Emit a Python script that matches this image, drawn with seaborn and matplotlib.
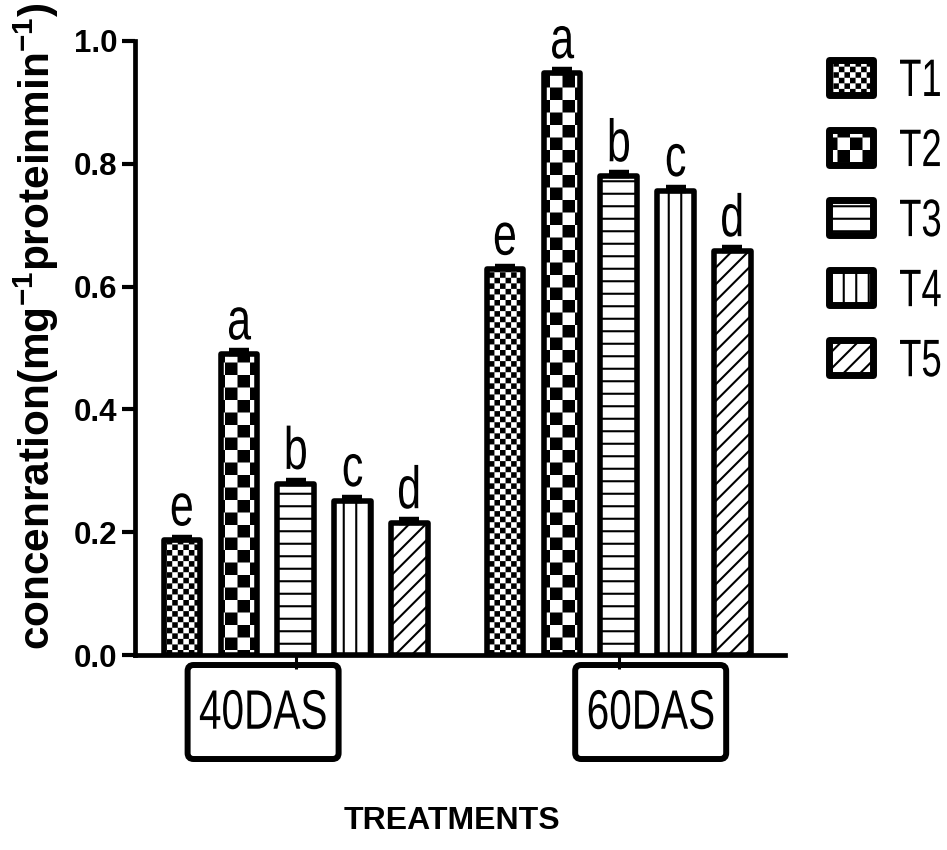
import warnings
import numpy as np
import pandas as pd
import matplotlib
matplotlib.use("Agg")
import matplotlib.pyplot as plt
from matplotlib import hatch as mhatch
from matplotlib.path import Path
from matplotlib.patches import FancyBboxPatch
from matplotlib.patheffects import AbstractPathEffect
from matplotlib.transforms import Affine2D, ScaledTranslation, blended_transform_factory
import seaborn as sns

warnings.filterwarnings("ignore")

# ---- data -------------------------------------------------------------
stages = ["40DAS", "60DAS"]
treatments = ["T1", "T2", "T3", "T4", "T5"]
activity_40das = [0.187, 0.490, 0.279, 0.251, 0.215]
activity_60das = [0.628, 0.948, 0.780, 0.756, 0.658]
sem_40das = [0.006, 0.006, 0.006, 0.006, 0.006]
sem_60das = [0.006, 0.006, 0.006, 0.006, 0.006]
letters_40das = ["e", "a", "b", "c", "d"]
letters_60das = ["e", "a", "b", "c", "d"]
yticks = [0.0, 0.2, 0.4, 0.6, 0.8, 1.0]


# ---- extra hatch fills: checkerboards and evenly spaced rules -----------
class CheckerHatch(mhatch.HatchPatternBase):
    filled = True

    def __init__(self, hatch, density):
        self.cells = 18 if "c" in hatch else (8 if "k" in hatch else 0)
        self.num_vertices = (self.cells * self.cells // 2) * 5

    def set_vertices_and_codes(self, vertices, codes):
        n = self.cells
        s = 1.0 / n
        shrink = plt.rcParams["hatch.linewidth"] / 144.0
        k = 0
        for i in range(n):
            for j in range(n):
                if (i + j) % 2 == 0:
                    x0, x1 = i * s + shrink, (i + 1) * s - shrink
                    y0, y1 = j * s + shrink, (j + 1) * s - shrink
                    vertices[k:k + 5] = [(x0, y0), (x1, y0), (x1, y1), (x0, y1), (x0, y0)]
                    codes[k:k + 5] = [Path.MOVETO, Path.LINETO, Path.LINETO,
                                      Path.LINETO, Path.CLOSEPOLY]
                    k += 5


class RuleHatch(mhatch.HatchPatternBase):
    def __init__(self, hatch, density):
        self.horizontal = "h" in hatch
        self.vertical = "v" in hatch
        self.num_lines = 8 if (self.horizontal or self.vertical) else 0
        self.num_vertices = self.num_lines * 2

    def set_vertices_and_codes(self, vertices, codes):
        steps = (np.arange(self.num_lines) + 0.5) / self.num_lines
        if self.horizontal:
            vertices[0::2, 0] = 0.0
            vertices[0::2, 1] = steps
            vertices[1::2, 0] = 1.0
            vertices[1::2, 1] = steps
        else:
            vertices[0::2, 0] = steps
            vertices[0::2, 1] = 0.0
            vertices[1::2, 0] = steps
            vertices[1::2, 1] = 1.0
        codes[0::2] = Path.MOVETO
        codes[1::2] = Path.LINETO


mhatch._hatch_types.extend([CheckerHatch, RuleHatch])
hatches = ["c", "k", "h", "v", "//"]


class Condensed(AbstractPathEffect):
    """Draw text glyphs squeezed horizontally (a narrow-face look)."""

    def __init__(self, sx=0.72, anchor="center"):
        super().__init__()
        self.sx = sx
        self.anchor = anchor

    def draw_path(self, renderer, gc, tpath, affine, rgbFace=None):
        if self.anchor == "center":
            ext = tpath.get_extents(affine)
            ox = 0.5 * (ext.x0 + ext.x1)
        else:
            ox = affine.get_matrix()[0, 2]
        squeeze = Affine2D().translate(-ox, 0).scale(self.sx, 1).translate(ox, 0)
        renderer.draw_path(gc, tpath, affine + squeeze, rgbFace)


# ---- style ------------------------------------------------------------
sns.set_theme(style="ticks")
plt.rcParams["font.family"] = ["Liberation Sans", "DejaVu Sans"]
plt.rcParams.update({
    "mathtext.fontset": "custom",
    "mathtext.rm": "Liberation Sans",
    "mathtext.bf": "Liberation Sans:bold",
    "mathtext.it": "Liberation Sans:italic",
    "hatch.linewidth": 1.5,
    "hatch.color": "black",
    "text.color": "black",
    "axes.labelcolor": "black",
    "axes.edgecolor": "black",
    "xtick.color": "black",
    "ytick.color": "black",
})

df = pd.DataFrame({
    "stage": np.repeat(stages, len(treatments)),
    "treatment": treatments * len(stages),
    "value": activity_40das + activity_60das,
    "sem": sem_40das + sem_60das,
    "letter": letters_40das + letters_60das,
})

fig = plt.figure(figsize=(9.47, 8.5), dpi=100)
ax = fig.add_axes([0.1426, 0.2294, 0.6864, 0.7224])

sns.barplot(data=df, x="stage", y="value", hue="treatment", order=stages,
            hue_order=treatments, palette=["white"] * len(treatments),
            saturation=1, edgecolor="black", linewidth=4, width=0.88, gap=0.36,
            errorbar=None, legend=False, ax=ax)

for container, hatch, trt in zip(ax.containers, hatches, treatments):
    sub = df[df["treatment"] == trt]
    xs = []
    for patch in container.patches:
        patch.set_hatch(hatch)
        patch.set_joinstyle("round")
        xs.append(patch.get_x() + patch.get_width() / 2)
    vals = sub["value"].to_numpy()
    errs = sub["sem"].to_numpy()
    ax.errorbar(xs, vals, yerr=[np.zeros_like(errs), errs], fmt="none",
                ecolor="black", elinewidth=3, capsize=7, capthick=3.2, zorder=4)
    for x, v, e, lab in zip(xs, vals, errs, sub["letter"]):
        t = ax.annotate(lab, xy=(x, v + e), xytext=(0, 8), textcoords="offset points",
                        ha="center", va="baseline", fontsize=43, color="black",
                        annotation_clip=False)
        t.set_path_effects([Condensed(0.72)])

# ---- axes -------------------------------------------------------------
ax.set_ylim(0, 1.0)
ax.set_xlim(-0.497, 1.515)
ax.set_yticks(yticks)
ax.set_yticklabels([f"{t:.1f}" for t in yticks], fontsize=22.5, fontweight="bold")
ax.tick_params(axis="y", length=9.5, width=3, pad=3)
ax.tick_params(axis="x", length=10, width=2.2, pad=33)
for side in ("top", "right"):
    ax.spines[side].set_visible(False)
for side in ("left", "bottom"):
    ax.spines[side].set_linewidth(3.4)

ax.set_xticks(range(len(stages)))
ax.set_xticklabels(stages, fontsize=40)
label_shift = [-32.5, 32.0]  # horizontal shift of each group label, pixels
tick_base = blended_transform_factory(ax.transData, ax.transAxes)
for i, (lab, dx) in enumerate(zip(ax.get_xticklabels(), label_shift)):
    lab.set_va("center")
    lab.set_transform(lab.get_transform() + ScaledTranslation(dx / 100, 0, fig.dpi_scale_trans))
    lab.set_path_effects([Condensed(0.73)])
    frame_tr = fig.dpi_scale_trans + ScaledTranslation(i, 0, tick_base)
    frame = FancyBboxPatch(((dx - 75.5) / 100, -1.04), 1.51, 0.94,
                           boxstyle="round,pad=0,rounding_size=0.06",
                           transform=frame_tr, facecolor="white", edgecolor="black",
                           linewidth=4.3, clip_on=False, zorder=0.3)
    ax.add_artist(frame)

ax.set_ylabel(r"concenration(mg$^{\mathbf{-1}}$proteinmin$^{\mathbf{-1}}$)",
              fontsize=30.5, fontweight="bold")
ax.yaxis.label.set_va("baseline")
ax.yaxis.set_label_coords(-0.131, 0.536)

ax.set_xlabel("TREATMENTS", fontsize=23, fontweight="bold")
ax.xaxis.label.set_va("center")
ax.xaxis.set_label_coords(0.4877, -0.2704)

leg = ax.legend(ax.containers, treatments, loc="upper left",
                bbox_to_anchor=(829 / 947, 1 - 57 / 850), bbox_transform=fig.transFigure,
                frameon=False, borderpad=0, borderaxespad=0, handlelength=0.83,
                handleheight=0.66, handletextpad=0.5, labelspacing=0.38,
                prop={"size": 38})
for h in leg.legend_handles:
    h.set_linewidth(5)
    h.set_joinstyle("round")
for t in leg.get_texts():
    t.set_path_effects([Condensed(0.69, anchor="left")])

fig.savefig("out.png", dpi=100, facecolor="white")
